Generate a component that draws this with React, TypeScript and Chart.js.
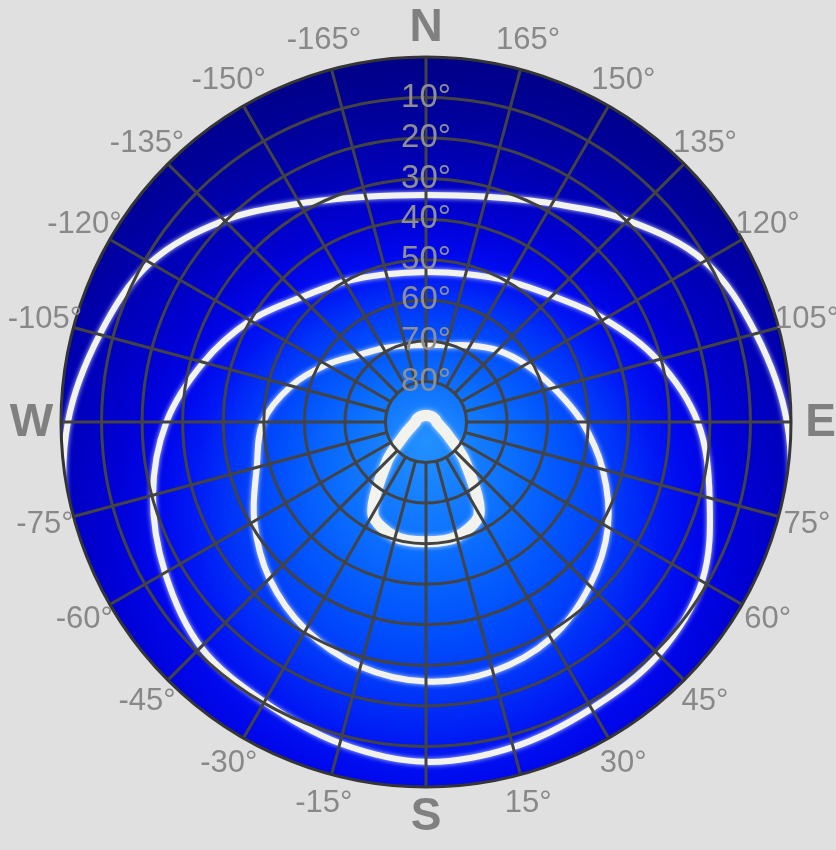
import React, { useEffect, useRef } from 'react';
import { Chart, registerables } from 'chart.js';

Chart.register(...registerables);

// Azimuth spokes, clockwise from the top (north) of the plot
const azimuthLabels = [
  'N', '165°', '150°', '135°', '120°', '105°', 'E', '75°', '60°', '45°', '30°', '15°',
  'S', '-15°', '-30°', '-45°', '-60°', '-75°', 'W', '-105°', '-120°', '-135°', '-150°', '-165°',
];
const cardinalLabels = ['N', 'E', 'S', 'W'];

// Altitude rings (degrees above horizon)
const altitudeRings = [10, 20, 30, 40, 50, 60, 70, 80];

// Sun-path contours: altitude (deg) at each azimuth spoke above
const pathOuter = [
  34, 32.5, 27.8, 19.7, 10.7, 5.8, 1, -2.5, -6, -10, -13, -15,
  -16, -15, -13, -10, -6, -2, 1.7, 6.7, 11.5, 19.7, 27.8, 32.5,
];
const pathMiddle = [
  53, 52.2, 49.8, 46, 39.2, 30.9, 23, 17.6, 11.4, 8.9, 8.4, 7,
  6.2, 8, 10.3, 11.5, 15.7, 20.3, 26, 33.2, 40, 46.5, 50, 52.3,
];
const pathInner = [
  71, 70.4, 68.2, 65, 61.6, 57.4, 51.5, 44.9, 38.2, 32.9, 28.4, 26.3,
  26, 27.6, 30.8, 35.4, 41.1, 46.8, 49.8, 55.6, 61.7, 66.6, 69, 70.5,
];
const pathZenith = [
  88.4, 88.35, 88.3, 88.1, 87.9, 87.6, 87.4, 86.5, 84, 76.5, 63.8, 60.7,
  60.5, 60.7, 63.8, 76.5, 84, 86.5, 87.4, 87.6, 87.9, 88.1, 88.3, 88.35,
];

const toZenith = (alt: number) => 90 - alt;
const FONT = '"Liberation Sans", Arial, sans-serif';

const skyPlugin = {
  id: 'skyPlot',
  beforeDatasetsDraw(chart: any) {
    const s = chart.scales.r;
    const ctx = chart.ctx as CanvasRenderingContext2D;
    const cx = s.xCenter, cy = s.yCenter, R = s.drawingArea;
    ctx.save();
    const g = ctx.createRadialGradient(cx, cy + 0.05 * R, 0, cx, cy + 0.5 * R, 1.5 * R);
    g.addColorStop(0, 'rgb(35,145,255)');
    g.addColorStop(0.15, 'rgb(12,112,255)');
    g.addColorStop(0.27, 'rgb(0,80,252)');
    g.addColorStop(0.36, 'rgb(0,52,248)');
    g.addColorStop(0.43, 'rgb(0,24,244)');
    g.addColorStop(0.49, 'rgb(0,8,236)');
    g.addColorStop(0.58, 'rgb(0,0,212)');
    g.addColorStop(0.7, 'rgb(0,0,185)');
    g.addColorStop(0.85, 'rgb(0,0,155)');
    g.addColorStop(1, 'rgb(0,0,135)');
    ctx.beginPath();
    ctx.arc(cx, cy, R, 0, Math.PI * 2);
    ctx.fillStyle = g;
    ctx.fill();
    ctx.clip();
    ctx.shadowColor = 'rgba(225,235,255,0.9)';
    ctx.shadowBlur = 5;
  },
  afterDatasetsDraw(chart: any) {
    const ctx = chart.ctx as CanvasRenderingContext2D;
    ctx.restore();
    const s = chart.scales.r;
    const inner = s.getDistanceFromCenterForValue(toZenith(altitudeRings[altitudeRings.length - 1]));
    const outer = s.drawingArea;
    ctx.save();
    ctx.strokeStyle = '#434343';
    ctx.lineWidth = 3;
    for (let i = 0; i < azimuthLabels.length; i++) {
      const a = s.getPointPosition(i, inner);
      const b = s.getPointPosition(i, outer);
      ctx.beginPath();
      ctx.moveTo(a.x, a.y);
      ctx.lineTo(b.x, b.y);
      ctx.stroke();
    }
    ctx.restore();
  },
  afterDraw(chart: any) {
    const ctx = chart.ctx as CanvasRenderingContext2D;
    const s = chart.scales.r;
    ctx.save();
    ctx.textAlign = 'center';
    ctx.textBaseline = 'middle';
    azimuthLabels.forEach((lab, i) => {
      const p = s.getPointPosition(i, s.drawingArea + 29.5);
      const card = cardinalLabels.includes(lab);
      ctx.font = card ? `bold 46px ${FONT}` : `31px ${FONT}`;
      ctx.fillStyle = card ? '#808080' : '#888888';
      ctx.fillText(lab, p.x, p.y + (card ? 1 : 0));
    });
    ctx.restore();
  },
};

export default function App() {
  const ref = useRef<HTMLCanvasElement | null>(null);

  useEffect(() => {
    document.body.style.backgroundColor = '#e0e0e0';
    document.body.style.margin = '0';
    if (!ref.current) return;
    const line = (data: number[], width: number, tension: number) => ({
      data: data.map(toZenith),
      borderColor: '#f3f3ee',
      borderWidth: width,
      pointRadius: 0,
      fill: false,
      tension,
      borderJoinStyle: 'round' as const,
    });
    const chart = new Chart(ref.current, {
      type: 'radar',
      data: {
        labels: azimuthLabels,
        datasets: [
          line(pathOuter, 6, 0.35),
          line(pathMiddle, 6, 0.35),
          line(pathInner, 6, 0.35),
          line(pathZenith, 11, 0.3),
        ],
      },
      options: {
        animation: false,
        responsive: true,
        maintainAspectRatio: false,
        events: [],
        layout: { padding: { left: 26, right: 10, top: 41, bottom: 46 } },
        plugins: { legend: { display: false }, tooltip: { enabled: false } },
        scales: {
          r: {
            min: 0,
            max: 90,
            startAngle: 0,
            angleLines: { display: false },
            pointLabels: { display: false },
            grid: {
              z: 1,
              circular: true,
              lineWidth: 3,
              color: (c: any) => (c.tick && c.tick.value === 90 ? '#353535' : '#434343'),
            },
            ticks: {
              z: 1,
              stepSize: 10,
              color: '#8f8f92',
              font: { size: 33, family: FONT },
              showLabelBackdrop: false,
              backdropPadding: 0,
              callback: (v: any) => {
                const alt = 90 - Number(v);
                return altitudeRings.includes(alt) ? `${alt}°` : '';
              },
            },
          },
        },
      },
      plugins: [skyPlugin],
    });
    return () => chart.destroy();
  }, []);

  return (
    <div style={{ position: 'fixed', left: 0, top: 0, width: 836, height: 850 }}>
      <canvas ref={ref} />
    </div>
  );
}
